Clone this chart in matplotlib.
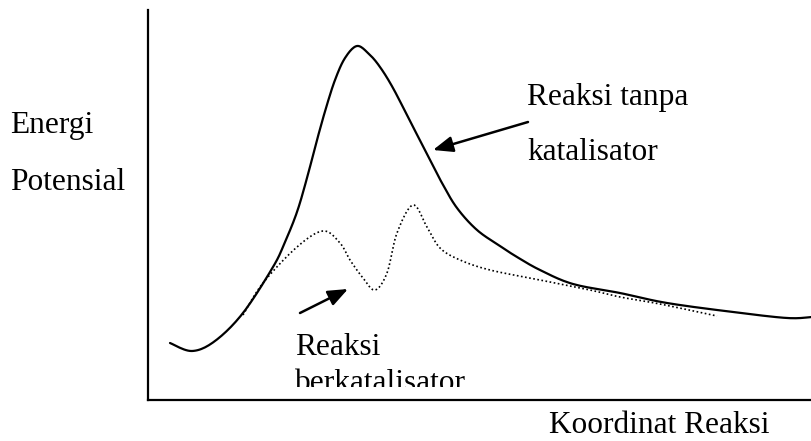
import numpy as np
import matplotlib
matplotlib.use("Agg")
import matplotlib.pyplot as plt
from matplotlib.patches import Rectangle

# energi potensial sepanjang koordinat reaksi (satuan bebas)
x_tanpa = [22, 44, 67, 95, 125, 137, 149, 159, 169, 178, 187, 197, 209, 221,
           232, 245, 262, 280, 294, 309, 329, 352, 369, 392, 425, 472, 519,
           585, 639, 664]
e_tanpa = [57, 49, 59, 87, 133, 158, 188, 222, 260, 292, 320, 342, 354, 346,
           333, 312, 279, 244, 217, 192, 170, 154, 143, 130, 116, 107, 97,
           88, 82, 83]

x_kat = [95, 115, 149, 175, 192, 202, 215, 227, 239, 249, 265, 279, 292, 312,
         342, 392, 442, 472, 512, 569]
e_kat = [85, 117, 153, 169, 157, 140, 122, 110, 127, 167, 195, 173, 152, 140,
         130, 120, 110, 103, 96, 84]


def smooth(xs, ys, n=12):
    # catmull-rom supaya garis tidak patah-patah
    p = np.column_stack([xs, ys]).astype(float)
    p = np.vstack([p[0], p, p[-1]])
    out = []
    for i in range(1, len(p) - 2):
        p0, p1, p2, p3 = p[i - 1], p[i], p[i + 1], p[i + 2]
        for t in np.linspace(0, 1, n, endpoint=False):
            t2, t3 = t * t, t * t * t
            out.append(0.5 * ((2 * p1) + (-p0 + p2) * t
                              + (2 * p0 - 5 * p1 + 4 * p2 - p3) * t2
                              + (-p0 + 3 * p1 - 3 * p2 + p3) * t3))
    out.append(p[-2])
    out = np.array(out)
    return out[:, 0], out[:, 1]


plt.rcParams['font.family'] = ['Liberation Serif', 'DejaVu Serif']

fig = plt.figure(figsize=(8.12, 4.41), dpi=100)
ax = fig.add_axes([148 / 812, 41 / 441, 664 / 812, 390 / 441])
ax.set_xlim(0, 664)
ax.set_ylim(0, 390)
for s in ['top', 'right']:
    ax.spines[s].set_visible(False)
for s in ['left', 'bottom']:
    ax.spines[s].set_linewidth(1.6)
ax.set_xticks([])
ax.set_yticks([])

sx, sy = smooth(x_tanpa, e_tanpa)
ax.plot(sx, sy, color='black', lw=1.6, solid_capstyle='round')
kx, ky = smooth(x_kat, e_kat)
ax.plot(kx, ky, color='black', lw=1.2, linestyle=(0, (1, 1.5)))

arr = dict(arrowstyle='-|>,head_length=0.5,head_width=0.2', mutation_scale=24,
           lw=1.8, color='black', shrinkA=0, shrinkB=0)
ax.annotate('', xy=(285, 250), xytext=(380, 278), arrowprops=arr,
            annotation_clip=False)
ax.annotate('', xy=(200, 111), xytext=(152, 87), arrowprops=arr,
            annotation_clip=False)

fs = 22.6
ax.text(379, 295, 'Reaksi tanpa', fontsize=fs, va='baseline', ha='left')
ax.text(379, 240, 'katalisator', fontsize=fs, va='baseline', ha='left')
ax.text(147, 45, 'Reaksi', fontsize=fs, va='baseline', ha='left')
t = ax.text(147, 9, 'berkatalisator', fontsize=fs, va='baseline', ha='left',
            clip_on=True)
t.set_clip_path(Rectangle((0, 13), 664, 400, transform=ax.transData))

ax.text(-138, 267, 'Energi', fontsize=fs, va='baseline', ha='left', clip_on=False)
ax.text(-138, 210, 'Potensial', fontsize=fs, va='baseline', ha='left', clip_on=False)
ax.text(401, -33, 'Koordinat Reaksi', fontsize=fs, va='baseline', ha='left',
        clip_on=False)

fig.savefig('out.png', dpi=100)
